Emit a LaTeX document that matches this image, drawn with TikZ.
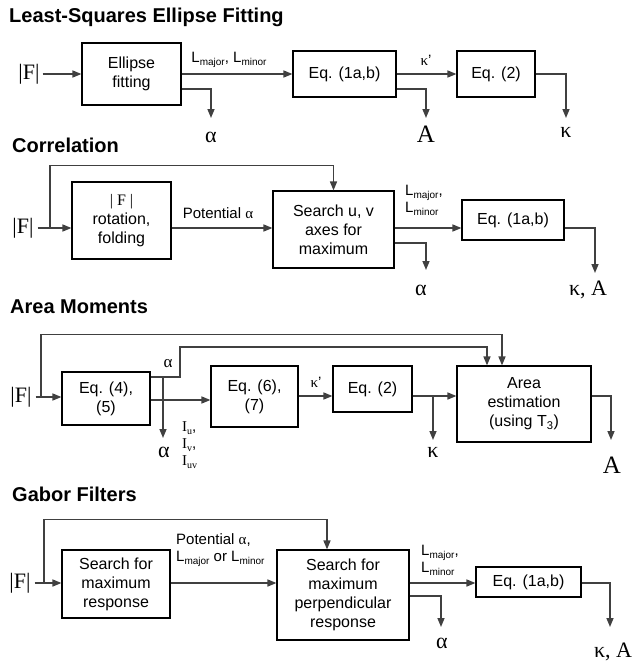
\documentclass[tikz,border=0pt]{standalone}
\usepackage{fontspec}
\setmainfont{Liberation Sans}
\newfontfamily\symf{Liberation Serif}
\usetikzlibrary{arrows.meta}
\definecolor{line1}{rgb}{0.25,0.25,0.25}
\newcommand{\Lsub}[1]{L\raisebox{-0.35ex}{\fontsize{10}{10}\selectfont #1}}
\newcommand{\Isub}[1]{{\symf I}\raisebox{-0.4ex}{\symf\fontsize{10}{10}\selectfont #1}}

\begin{document}
\begin{tikzpicture}[x=1pt,y=-1pt,>={Triangle[length=9pt,width=7pt]},
    blk/.style={draw,line width=1.1pt,align=center,inner sep=0pt,font=\fontsize{16}{19}\selectfont},
    lbl/.style={inner sep=0pt,align=left,font=\fontsize{15}{17}\selectfont},
    sym/.style={inner sep=0pt,font=\symf\fontsize{22}{24}\selectfont},
    ttl/.style={anchor=west,inner sep=0pt,font=\bfseries\fontsize{20}{24}\selectfont},
    ln/.style={line1,line width=1.5pt}]
    \useasboundingbox (0,0) rectangle (641,662);

    % least squares
    \node[ttl] at (9,17) {Least-Squares Ellipse Fitting};
    \node[sym] (f1) at (29,74) {|F|};
    \node[blk,minimum width=99pt,minimum height=62pt] (ef) at (131.5,74) {Ellipse\\fitting};
    \node[blk,minimum width=103pt,minimum height=46pt] (eqa) at (344.5,74) {Eq. (1a,b)};
    \node[blk,minimum width=78pt,minimum height=46pt] (eqb) at (496,74) {Eq. (2)};
    \coordinate (t1) at (211,118);
    \coordinate (t2) at (426,118);
    \coordinate (t3) at (566,118);
    \draw[ln,->,shorten <=3pt] (f1.east) -- (ef.west);
    \draw[ln,->] (ef.east) -- (eqa.west);
    \draw[ln,->] (ef.east |- 0,89) -| (t1);
    \draw[ln,->] (eqa.east) -- (eqb.west);
    \draw[ln,->] (eqa.east |- 0,89) -| (t2);
    \draw[ln,->] (eqb.east) -| (t3);
    \node[lbl] at (229,60) {\Lsub{major}, \Lsub{minor}};
    \node[lbl] at (426,60) {{\symf κ}'};
    \node[sym] at (211,137) {α};
    \node[sym,font=\symf\fontsize{25}{27}\selectfont] at (426,134) {A};
    \node[sym] at (566,132) {κ};

    % correlation
    \node[ttl] at (12,145) {Correlation};
    \node[sym] (f2) at (23,228) {|F|};
    \node[blk,minimum width=99pt,minimum height=77pt] (rot) at (121.5,220.5) {{\symf| F |}\\rotation,\\folding};
    \node[blk,minimum width=121pt,minimum height=77pt] (srch) at (333.5,229.5) {Search u, v\\axes for\\maximum};
    \node[blk,minimum width=102pt,minimum height=40pt] (eqc) at (513,220) {Eq. (1a,b)};
    \coordinate (k2) at (50,228);
    \coordinate (t5) at (426,270);
    \coordinate (t6) at (595,273);
    \draw[ln,->,shorten <=4pt] (f2.east) -- (f2.east -| rot.west);
    \draw[ln,->] (k2) |- ([yshift=25pt]srch.north) -- (srch.north);
    \draw[ln,->] (rot.east |- f2.east) -- (srch.west |- f2.east);
    \draw[ln,->] (srch.east |- f2.east) -- (eqc.west |- f2.east);
    \draw[ln,->] (srch.east |- 0,243) -| (t5);
    \draw[ln,->] (eqc.east |- f2.east) -| (t6);
    \node[lbl] at (218,213) {Potential {\symf α}};
    \node[lbl,anchor=west] at (405,200) {\Lsub{major},\\\Lsub{minor}};
    \node[sym] at (421,290) {α};
    \node[sym] at (588,290) {κ, A};

    % area moments
    \node[ttl] at (10,307) {Area Moments};
    \node[sym] (f3) at (21,397) {|F|};
    \node[blk,minimum width=88pt,minimum height=53pt] (m1) at (106,398.5) {Eq. (4),\\(5)};
    \node[blk,minimum width=87pt,minimum height=61pt] (m2) at (254.5,396.5) {Eq. (6),\\(7)};
    \node[blk,minimum width=79pt,minimum height=46pt] (m3) at (372.5,389) {Eq. (2)};
    \node[blk,minimum width=134pt,minimum height=76pt] (m4) at (524,404) {Area\\estimation\\(using T\textsubscript{3})};
    \coordinate (k3) at (41,397);
    \coordinate (j3) at (163,377);
    \coordinate (t8) at (163,438);
    \coordinate (j4) at (433,396);
    \coordinate (t9) at (433,440);
    \coordinate (t10) at (611,440);
    \draw[ln,->,shorten <=4pt] (f3.east) -- (f3.east -| m1.west);
    \draw[ln,->] (k3) |- ([xshift=-22pt,yshift=31pt]m4.north) -- ([xshift=-22pt]m4.north);
    \draw[ln,->] (m1.east |- j3) -| (180,347) -| ([xshift=-37pt]m4.north);
    \draw[ln,->] (j3) -- (t8);
    \draw[ln,->] (m1.east |- 0,400) -- (m2.west |- 0,400);
    \draw[ln,->] (m2.east |- j4) -- (m3.west |- j4);
    \draw[ln,->] (m3.east |- j4) -- (m4.west |- j4);
    \draw[ln,->] (j4) -- (t9);
    \draw[ln,->] (m4.east |- j4) -| (t10);
    \node[sym] at (168,364) {\fontsize{17}{19}\selectfont α};
    \node[sym] at (164,452) {α};
    \node[lbl,anchor=west,font=\fontsize{15}{17}\selectfont] at (182,445) {\Isub{u},\\\Isub{v},\\\Isub{uv}};
    \node[lbl] at (316,382) {{\symf κ}'};
    \node[sym] at (433,452) {κ};
    \node[sym,font=\symf\fontsize{25}{27}\selectfont] at (612,465) {A};

    % gabor
    \node[ttl] at (12,494) {Gabor Filters};
    \node[sym] (f4) at (20,583) {|F|};
    \node[blk,minimum width=108pt,minimum height=68pt] (g1) at (116,584) {Search for\\maximum\\response};
    \node[blk,minimum width=132pt,minimum height=90pt] (g2) at (343,595) {Search for\\maximum\\perpendicular\\response};
    \node[blk,minimum width=105pt,minimum height=30pt] (g3) at (528.5,582) {Eq. (1a,b)};
    \coordinate (k4) at (44,583);
    \coordinate (t11) at (441,627);
    \coordinate (t12) at (610,627);
    \draw[ln,->,shorten <=4pt] (f4.east) -- (f4.east -| g1.west);
    \draw[ln,->] (k4) |- ([xshift=-16pt,yshift=30pt]g2.north) -- ([xshift=-16pt]g2.north);
    \draw[ln,->] (g1.east |- f4.east) -- (g2.west |- f4.east);
    \draw[ln,->] (g2.east |- f4.east) -- (g3.west |- f4.east);
    \draw[ln,->] (g2.east |- 0,596) -| (t11);
    \draw[ln,->] (g3.east |- f4.east) -| (t12);
    \node[lbl,anchor=west] at (176,550) {Potential {\symf α},\\\Lsub{major} or \Lsub{minor}};
    \node[lbl,anchor=west] at (421,560) {\Lsub{major},\\\Lsub{minor}};
    \node[sym] at (442,643) {α};
    \node[sym] at (613,652) {κ, A};
  \end{tikzpicture}
\end{document}
